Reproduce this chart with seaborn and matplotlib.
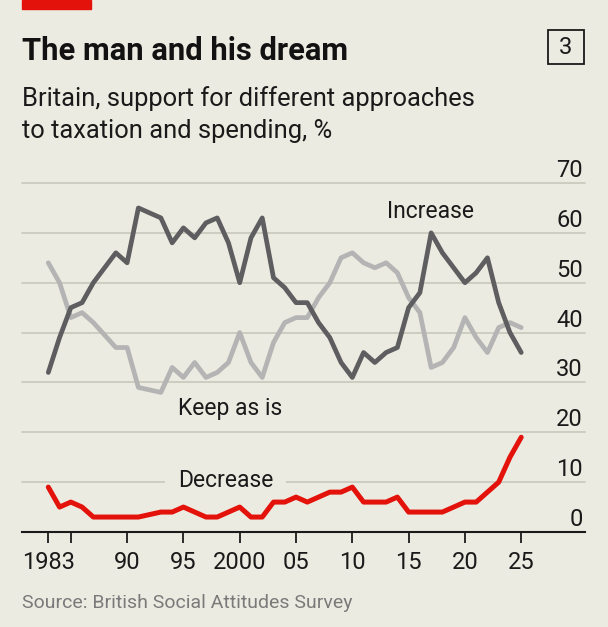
import matplotlib
matplotlib.use("Agg")
import matplotlib.pyplot as plt
import matplotlib.patches as mpatches
import matplotlib.transforms as mtrans
import seaborn as sns
import pandas as pd

# ---------------- data ----------------
years = [1983, 1984, 1985, 1986, 1987, 1989, 1990, 1991, 1993, 1994, 1995, 1996,
         1997, 1998, 1999, 2000, 2001, 2002, 2003, 2004, 2005, 2006, 2007, 2008,
         2009, 2010, 2011, 2012, 2013, 2014, 2015, 2016, 2017, 2018, 2019, 2020,
         2021, 2022, 2023, 2024, 2025]
increase = [32, 39, 45, 46, 50, 56, 54, 65, 63, 58, 61, 59,
            62, 63, 58, 50, 59, 63, 51, 49, 46, 46, 42, 39,
            34, 31, 36, 34, 36, 37, 45, 48, 60, 56, 53, 50,
            52, 55, 46, 40, 36]
keep_as_is = [54, 50, 43, 44, 42, 37, 37, 29, 28, 33, 31, 34,
              31, 32, 34, 40, 34, 31, 38, 42, 43, 43, 47, 50,
              55, 56, 54, 53, 54, 52, 47, 44, 33, 34, 37, 43,
              39, 36, 41, 42, 41]
decrease = [9, 5, 6, 5, 3, 3, 3, 3, 4, 4, 5, 4,
            3, 3, 4, 5, 3, 3, 6, 6, 7, 6, 7, 8,
            8, 9, 6, 6, 6, 7, 4, 4, 4, 4, 5, 6,
            6, 8, 10, 15, 19]

x_ticks = [1983, 1985, 1990, 1995, 2000, 2005, 2010, 2015, 2020, 2025]
x_tick_labels = ["1983", "", "90", "95", "2000", "05", "10", "15", "20", "25"]
y_ticks = [0, 10, 20, 30, 40, 50, 60, 70]
y_tick_labels = ["0", "10", "20", "30", "40", "50", "60", "70"]

title = "The man and his dream"
subtitle_lines = ["Britain, support for different approaches",
                  "to taxation and spending, %"]
source = "Source: British Social Attitudes Survey"
chart_no = "3"

# ---------------- style ----------------
BG = "#ECEBE1"
GRID = "#C9C7BC"
C_INC = "#5E5E60"
C_KEEP = "#B4B4B4"
C_DEC = "#E3120B"
FONT = ["Roboto", "DejaVu Sans"]

sns.set_theme(style="white")
plt.rcParams["font.family"] = FONT

W, H = 608, 627
fig = plt.figure(figsize=(W / 100, H / 100), dpi=100, facecolor=BG)

def fx(px):
    return px / W

def fy(py):
    return 1 - py / H

ax_left, ax_right = 22, 585
ax_top, ax_bottom = 183, 532
ax = fig.add_axes([fx(ax_left), fy(ax_bottom), (ax_right - ax_left) / W,
                   (ax_bottom - ax_top) / H])
ax.set_facecolor(BG)

px_per_year = 11.26
x0_px = 48.3
xmin = 1983 + (ax_left - x0_px) / px_per_year
xmax = 1983 + (ax_right - x0_px) / px_per_year
ax.set_xlim(xmin, xmax)
ax.set_ylim(0, 70)

# gridlines
for v in y_ticks[1:]:
    ax.axhline(v, color=GRID, lw=1.2, zorder=1, clip_on=False)

df = pd.DataFrame({"year": years, "Increase": increase,
                   "Keep as is": keep_as_is, "Decrease": decrease})

lw = 3.4
sns.lineplot(data=df, x="year", y="Keep as is", color=C_KEEP, lw=lw, ax=ax,
             zorder=3, clip_on=False)
sns.lineplot(data=df, x="year", y="Increase", color=C_INC, lw=lw, ax=ax,
             zorder=4, clip_on=False)
sns.lineplot(data=df, x="year", y="Decrease", color=C_DEC, lw=3.6, ax=ax,
             zorder=5, clip_on=False)

for sp in ["top", "right", "left"]:
    ax.spines[sp].set_visible(False)
ax.spines["bottom"].set_color("#1A1A1A")
ax.spines["bottom"].set_linewidth(1.5)
ax.spines["bottom"].set_zorder(6)

ax.set_xlabel("")
ax.set_ylabel("")
ax.set_yticks([])
ax.set_xticks(x_ticks)
ax.set_xticklabels(x_tick_labels)
ax.tick_params(axis="x", direction="out", length=8, width=1.3, color="#1A1A1A",
               pad=6, labelsize=17, labelcolor="#1A1A1A", bottom=True)

# right-hand value labels above gridlines
off = mtrans.ScaledTranslation(0, 6 / 100, fig.dpi_scale_trans)
for v, lab in zip(y_ticks, y_tick_labels):
    ax.text(xmax - 2 / px_per_year, v, lab, ha="right", va="baseline",
            fontsize=17, color="#1A1A1A", transform=ax.transData + off,
            clip_on=False)

# series labels
ax.text(2013.1, 63, "Increase", fontsize=16.5, color="#1A1A1A",
        ha="left", va="baseline", zorder=7)
ax.text(1994.5, 23.4, "Keep as is", fontsize=16.5, color="#1A1A1A",
        ha="left", va="baseline", zorder=7)
ax.text(1994.5, 9.0, "Decrease", fontsize=16.5, color="#1A1A1A",
        ha="left", va="baseline", zorder=2,
        bbox=dict(boxstyle="square,pad=0.55", facecolor=BG, edgecolor="none"))

# header
fig.patches.append(mpatches.Rectangle((fx(22), fy(9)), fx(69), 9 / H,
                                      transform=fig.transFigure, color=C_DEC))
fig.text(fx(22), fy(60), title, fontsize=22.2, fontweight="bold",
         color="#121212", ha="left", va="baseline")
fig.text(fx(22), fy(106), subtitle_lines[0], fontsize=18.4, color="#1A1A1A",
         ha="left", va="baseline")
fig.text(fx(22), fy(138), subtitle_lines[1], fontsize=18.4, color="#1A1A1A",
         ha="left", va="baseline")
fig.patches.append(mpatches.Rectangle((fx(548), fy(64)), fx(36), 34 / H,
                                      transform=fig.transFigure, fill=False,
                                      edgecolor="#1A1A1A", lw=1.3))
fig.text(fx(566), fy(47), chart_no, fontsize=17, color="#1A1A1A",
         ha="center", va="center")
fig.text(fx(22), fy(608), source, fontsize=14, color="#7A7A7A",
         ha="left", va="baseline")

fig.savefig("out.png", dpi=100, facecolor=BG)
